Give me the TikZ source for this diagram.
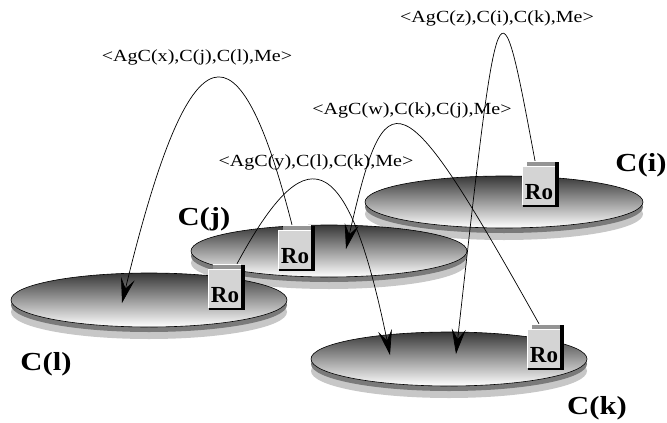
\documentclass[tikz,border=0pt]{standalone}
\usepackage{fontspec}
\setmainfont{Liberation Serif}
\usetikzlibrary{shapes.geometric,arrows.meta}
\tikzset{
  disk/.style={ellipse, inner sep=0pt, minimum width=276pt, minimum height=53pt,
    draw=black, line width=0.6pt, top color=black!78, bottom color=white},
  band1/.style={fill=black!22},
  band2/.style={fill=black!52},
  robox/.style={rectangle, inner sep=0pt, minimum width=32pt, minimum height=38pt,
    fill=black!17, text height=30pt, text depth=4pt,
    font=\fontsize{23pt}{23pt}\selectfont\bfseries},
  cname/.style={font=\fontsize{26pt}{26pt}\selectfont\bfseries, inner sep=0pt},
  msg/.style={font=\fontsize{17pt}{17pt}\selectfont, inner sep=0pt},
  flow/.style={line width=0.7pt, -{Stealth[length=25pt,width=14pt,inset=10pt]}},
}
\newcommand{\rodeco}[1]{%
  \fill[black!42] ([xshift=4pt,yshift=5pt]#1.north west) rectangle (#1.north east);
  \draw[white, line width=0.7pt] ([xshift=4pt,yshift=5pt]#1.north west) -- ([yshift=5pt]#1.north east);
  \fill[black] ([yshift=5pt]#1.north east) rectangle ([xshift=4pt,yshift=-2pt]#1.south east);
  \fill[black] (#1.south west) rectangle ([yshift=-2pt]#1.south east);
  \draw[white, line width=0.8pt] (#1.south west) -- (#1.north west) -- (#1.north east);
}
\begin{document}
\begin{tikzpicture}[x=1pt, y=-1pt]
\useasboundingbox (0,0) rectangle (667,423);

% C(i)
\fill[band1] (504,214) ellipse (139pt and 26pt);
\fill[band2] (504,207) ellipse (139pt and 26pt);
\node[disk, minimum width=278pt, minimum height=52pt] (di) at (504,202) {};
\node[robox] (ro3) at (539,186) {Ro};
\rodeco{ro3}

% C(j)
\fill[band1] (329,263) ellipse (138pt and 26pt);
\fill[band2] (329,256) ellipse (138pt and 26pt);
\node[disk, minimum height=52pt] (dj) at (329,251) {};
\node[robox] (ro2) at (295,250) {Ro};
\rodeco{ro2}

% C(l)
\fill[band1] (149,312) ellipse (138pt and 27pt);
\fill[band2] (149,305) ellipse (138pt and 27pt);
\node[disk, minimum height=54pt] (dl) at (149,300) {};
\node[robox] (ro1) at (225,289) {Ro};
\rodeco{ro1}

% C(k)
\fill[band1] (449,371) ellipse (138pt and 27pt);
\fill[band2] (449,364) ellipse (138pt and 27pt);
\node[disk, minimum height=54pt] (dk) at (449,359) {};
\node[robox] (ro4) at (544,349) {Ro};
\rodeco{ro4}

% names
\node[cname] (li) at (641,165) {\scalebox{1.18}[1]{C(i)}};
\node[cname] (lj) at (204,219) {\scalebox{1.18}[1]{C(j)}};
\node[cname] (ll) at (46,364) {\scalebox{1.18}[1]{C(l)}};
\node[cname] (lk) at (597,408) {\scalebox{1.18}[1]{C(k)}};

% messages
\node[msg] (mx) at (197,57) {\scalebox{1.18}[1]{<AgC(x),C(j),C(l),Me>}};
\node[msg] (mz) at (497,18) {\scalebox{1.18}[1]{<AgC(z),C(i),C(k),Me>}};
\node[msg] (mw) at (412,110) {\scalebox{1.18}[1]{<AgC(w),C(k),C(j),Me>}};
\node[msg] (my) at (316,162) {\scalebox{1.18}[1]{<AgC(y),C(l),C(k),Me>}};

% arrow targets
\coordinate (tl) at (122,303);
\coordinate (tj) at (346,249);
\coordinate (tk1) at (390,355);
\coordinate (tk2) at (456,354);

% flows
\draw[flow] ([xshift=-3pt,yshift=6pt]ro2.north) .. controls (239,18) and (191,18) .. (tl);
\draw[flow] ([xshift=-4pt,yshift=6pt]ro3.north) .. controls (499,-32) and (499,-32) .. (tk2);
\draw[flow] ([xshift=-5pt,yshift=6pt]ro4.north) .. controls (399,74) and (386,74) .. (tj);
\draw[flow] ([xshift=12pt,yshift=6pt]ro1.north) .. controls (304,140) and (346,140) .. (tk1);
\end{tikzpicture}
\end{document}
